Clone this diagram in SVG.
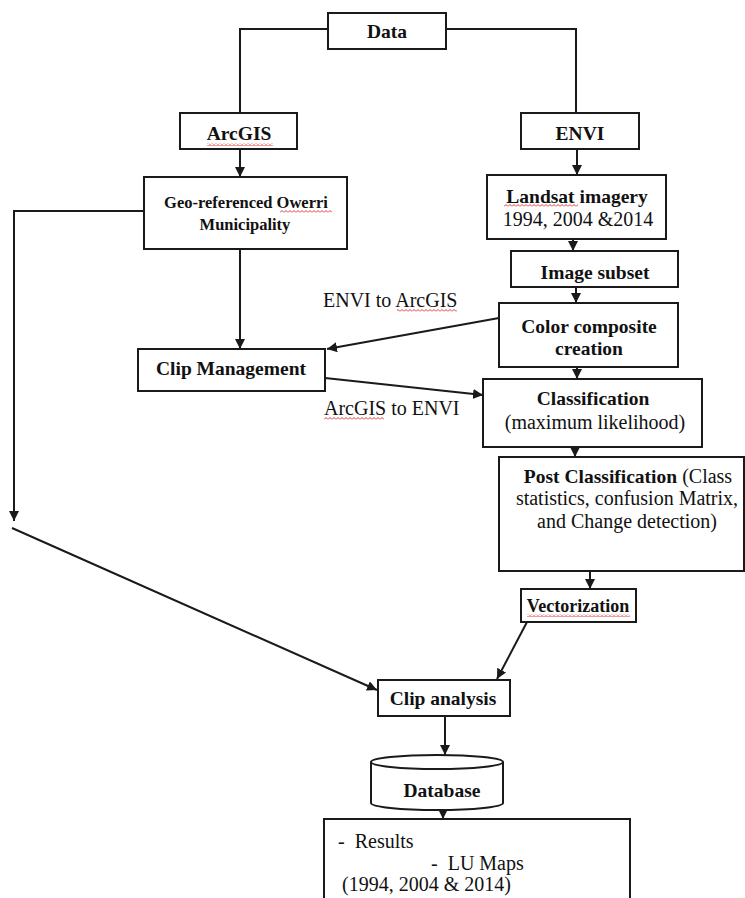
<svg xmlns="http://www.w3.org/2000/svg" width="745" height="898" viewBox="0 0 745 898">
<style>
.box{fill:#fff;stroke:#1a1a1a;stroke-width:2}
.ln{fill:none;stroke:#1a1a1a;stroke-width:2}
.ar{marker-end:url(#ah)}
text{font-family:"Liberation Serif","Times New Roman",serif;font-size:20px;fill:#111}
.b{font-weight:bold;font-size:19.5px}
.c{text-anchor:middle}
.s{font-size:16.5px}
.v{font-size:18px}
.sq{fill:url(#wave)}
</style>
<defs>
<marker id="ah" markerUnits="userSpaceOnUse" markerWidth="11" markerHeight="11" refX="10" refY="5" orient="auto">
<path d="M0,0 L10,5 L0,10 z" fill="#1a1a1a"/>
</marker>
<pattern id="wave" width="4" height="3" patternUnits="userSpaceOnUse">
<path d="M0,2.5 L2,0.5 L4,2.5" fill="none" stroke="#e02020" stroke-width="0.9"/>
</pattern>
</defs>

<g id="connectors">
<polyline class="ln" points="328,29 240,29 240,113"/>
<polyline class="ln" points="446,29 576,29 576,113"/>
<line class="ln ar" x1="240" y1="149" x2="240" y2="177"/>
<line class="ln ar" x1="577" y1="149" x2="577" y2="175"/>
<line class="ln ar" x1="573" y1="239" x2="573" y2="251"/>
<line class="ln ar" x1="576" y1="287" x2="576" y2="303"/>
<line class="ln ar" x1="499" y1="318" x2="327" y2="349"/>
<line class="ln ar" x1="240" y1="249" x2="240" y2="349"/>
<line class="ln ar" x1="325" y1="378" x2="483" y2="395"/>
<line class="ln ar" x1="577" y1="367" x2="577" y2="379"/>
<line class="ln ar" x1="575" y1="447" x2="575" y2="457"/>
<polyline class="ln ar" points="144,211 14,211 14,521"/>
<line class="ln ar" x1="12" y1="528" x2="377" y2="690"/>
<line class="ln ar" x1="590" y1="571" x2="590" y2="589"/>
<line class="ln ar" x1="527" y1="622" x2="497" y2="679"/>
<line class="ln ar" x1="445" y1="716" x2="445" y2="755"/>
<line class="ln ar" x1="443" y1="810" x2="443" y2="819"/>
<text x="323" y="307">ENVI to ArcGIS</text>
<rect class="sq" x="397" y="309" width="60" height="3"/>
<text x="324" y="415">ArcGIS to ENVI</text>
<rect class="sq" x="324" y="417" width="60" height="3"/>
</g>

<g id="data">
<rect class="box" x="328" y="13" width="118" height="36"/>
<text class="b c" x="387" y="38">Data</text>
</g>
<g id="arcgis">
<rect class="box" x="180" y="113" width="117" height="36"/>
<text class="b c" x="239" y="140">ArcGIS</text>
<rect class="sq" x="207" y="143" width="66" height="3"/>
</g>
<g id="envi">
<rect class="box" x="521" y="113" width="118" height="36"/>
<text class="b c" x="580" y="140">ENVI</text>
</g>
<g id="geo">
<rect class="box" x="144" y="177" width="203" height="72"/>
<text class="b c s" x="246" y="208">Geo-referenced Owerri</text>
<rect class="sq" x="280" y="210" width="52" height="3"/>
<text class="b c s" x="245" y="230">Municipality</text>
</g>
<g id="landsat">
<rect class="box" x="487" y="175" width="179" height="64"/>
<text class="b c" x="577" y="203">Landsat imagery</text>
<rect class="sq" x="504" y="204" width="74" height="3"/>
<text class="c" x="578" y="226">1994, 2004 &amp;2014</text>
</g>
<g id="subset">
<rect class="box" x="511" y="251" width="167" height="36"/>
<text class="b c" x="595" y="279">Image subset</text>
</g>
<g id="composite">
<rect class="box" x="499" y="303" width="179" height="64"/>
<text class="b c" x="589" y="333">Color composite</text>
<text class="b c" x="589" y="355">creation</text>
</g>
<g id="clipmgmt">
<rect class="box" x="138" y="349" width="187" height="42"/>
<text class="b c" x="231" y="375">Clip Management</text>
</g>
<g id="classification">
<rect class="box" x="483" y="379" width="219" height="68"/>
<text class="b c" x="593" y="405">Classification</text>
<text class="c" x="595" y="429">(maximum likelihood)</text>
</g>
<g id="postclass">
<rect class="box" x="499" y="457" width="245" height="114"/>
<text class="c" x="628" y="483"><tspan class="b">Post Classification</tspan> (Class</text>
<text class="c" x="627" y="505">statistics, confusion Matrix,</text>
<text class="c" x="627" y="528">and Change detection)</text>
</g>
<g id="vectorization">
<rect class="box" x="521" y="589" width="115" height="33"/>
<text class="b c v" x="578" y="612">Vectorization</text>
<rect class="sq" x="527" y="614" width="103" height="3"/>
</g>
<g id="clipanalysis">
<rect class="box" x="378" y="680" width="132" height="36"/>
<text class="b c" x="443" y="705">Clip analysis</text>
</g>
<g id="database">
<path class="box" d="M371,762 V803 A66,7 0 0 0 503,803 V762"/>
<ellipse class="box" cx="437" cy="762" rx="66" ry="7"/>
<text class="b c" x="442" y="797">Database</text>
</g>
<g id="results">
<rect class="box" x="324" y="819" width="306" height="100"/>
<text x="338" y="848" xml:space="preserve">-  Results</text>
<text x="431" y="870" xml:space="preserve">-  LU Maps</text>
<text x="342" y="891">(1994, 2004 &amp; 2014)</text>
</g>
</svg>
